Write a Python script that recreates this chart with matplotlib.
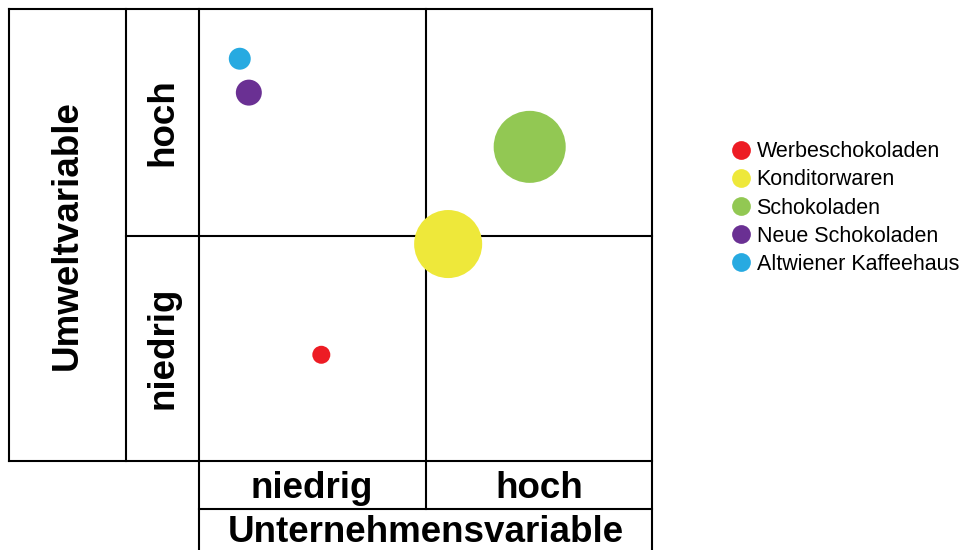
import matplotlib
matplotlib.use('Agg')
import matplotlib.pyplot as plt
from matplotlib.lines import Line2D

plt.rcParams['font.family'] = ['Liberation Sans', 'DejaVu Sans']

# Daten: Geschäftsfelder in der Matrix (0..2 je Achse)
names = ['Werbeschokoladen', 'Konditorwaren', 'Schokoladen', 'Neue Schokoladen', 'Altwiener Kaffeehaus']
unternehmen = [0.54, 1.10, 1.46, 0.22, 0.18]
umwelt = [0.47, 0.96, 1.39, 1.63, 1.78]
groesse = [168, 2400, 2690, 350, 250]
farben = ['#ED1C24', '#EEE83A', '#92C853', '#6A3093', '#27AAE1']
stufen = ['niedrig', 'hoch']

W, H = 967, 550
fig = plt.figure(figsize=(W / 100, H / 100), dpi=100)

# Overlay in Pixelkoordinaten für Tabellenrahmen und Beschriftungen
bg = fig.add_axes([0, 0, 1, 1])
bg.set_xlim(0, W)
bg.set_ylim(H, 0)
bg.axis('off')

lw = 1.5
linien = [
    ((9, 652), (9, 9)),
    ((9, 652), (461, 461)),
    ((126, 652), (236, 236)),
    ((199, 652), (509, 509)),
    ((9, 9), (9, 461)),
    ((126, 126), (9, 461)),
    ((199, 199), (9, 550)),
    ((426, 426), (9, 509)),
    ((652, 652), (9, 550)),
]
for xs, ys in linien:
    bg.plot(xs, ys, color='black', lw=lw, solid_capstyle='projecting')

fs = 26.5
bg.text(67, 235, 'Umweltvariable', rotation=90, ha='center', va='center',
        fontsize=fs, fontweight='bold')
bg.text(163, 348, stufen[0], rotation=90, ha='center', va='center',
        fontsize=fs, fontweight='bold')
bg.text(163, 122, stufen[1], rotation=90, ha='center', va='center',
        fontsize=fs, fontweight='bold')
bg.text(312, 488, stufen[0], ha='center', va='center', fontsize=fs, fontweight='bold')
bg.text(539, 488, stufen[1], ha='center', va='center', fontsize=fs, fontweight='bold')
bg.text(426, 533, 'Unternehmensvariable', ha='center', va='center',
        fontsize=fs, fontweight='bold')

# Matrix-Achse
ax = fig.add_axes([199 / W, (H - 461) / H, 453 / W, 452 / H])
ax.set_xlim(0, 2)
ax.set_ylim(0, 2)
ax.axis('off')
ax.patch.set_alpha(0)
ax.scatter(unternehmen, umwelt, s=groesse, c=farben, edgecolors='none', zorder=3, clip_on=False)

handles = [Line2D([], [], marker='o', ls='none', markersize=13.5, markerfacecolor=f,
                  markeredgecolor='none') for f in farben]
fig.legend(handles, names, loc='center left', bbox_to_anchor=(721 / W, 1 - 208 / H),
           frameon=False, fontsize=15.5, labelspacing=0.33, handlelength=0.9,
           handletextpad=0.25, borderpad=0)

fig.savefig('out.png', dpi=100)
